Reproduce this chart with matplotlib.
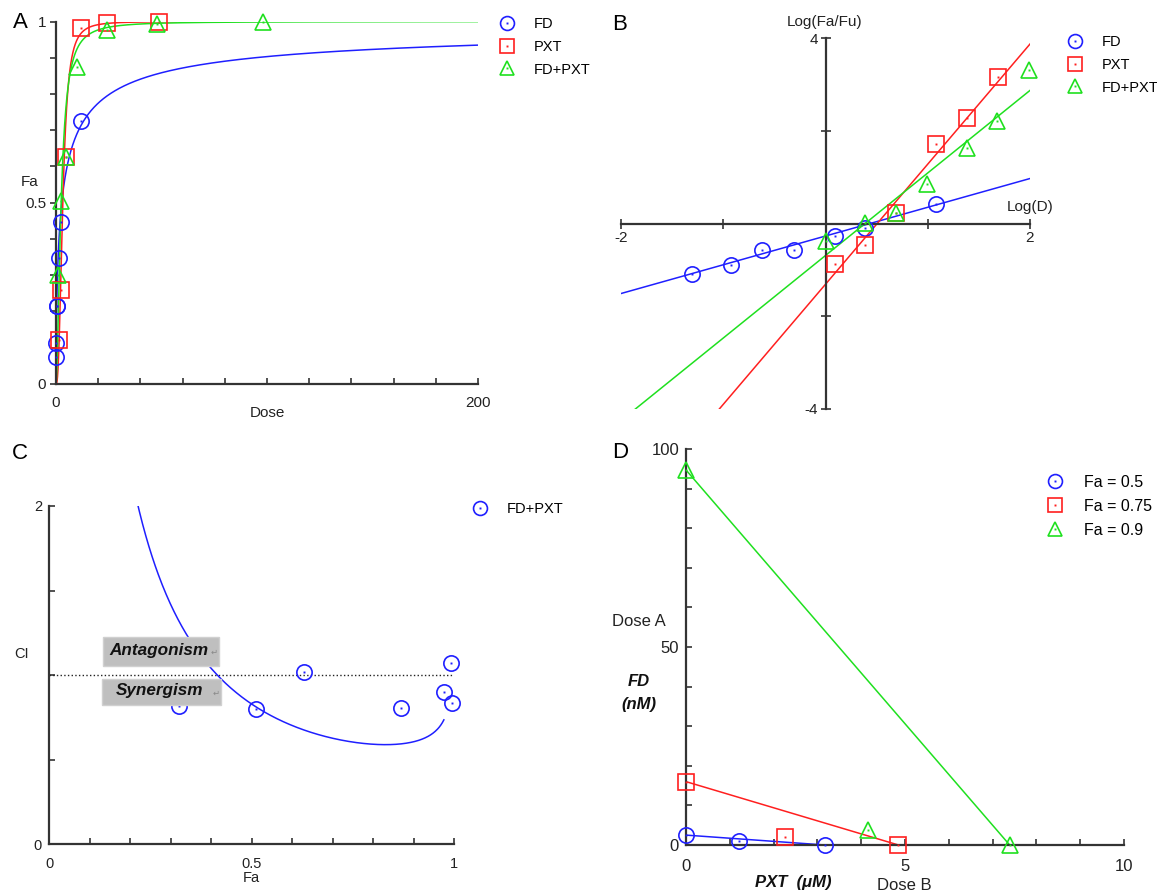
import numpy as np
import matplotlib
matplotlib.use("Agg")
import matplotlib.pyplot as plt
from matplotlib.lines import Line2D
from matplotlib.legend_handler import HandlerTuple
from matplotlib.patches import Rectangle

plt.rcParams['font.family'] = ['Liberation Sans', 'DejaVu Sans']

# --- data ---
fd_dose = [0.049, 0.12, 0.24, 0.49, 1.23, 2.45, 12.0]
fd_fa = [0.075, 0.112, 0.215, 0.215, 0.348, 0.447, 0.725]
pxt_dose = [1.23, 2.45, 4.9, 12.0, 24.0, 49.0]
pxt_fa = [0.12, 0.26, 0.625, 0.981, 0.9948, 0.9993]
combo_dose = [1.0, 2.45, 4.9, 9.8, 24.0, 48.0, 98.0]
combo_fa = [0.30, 0.506, 0.625, 0.874, 0.977, 0.994, 0.9995]

# median-effect lines from panel B: slope m, intercept at log(D)=0
m_fd, b_fd = 0.62, -0.27
m_pxt, b_pxt = 2.59, -1.31
m_combo, b_combo = 1.78, -0.69
fd_fraction = 0.5  # share of FD in the combination dose

ci_fa = [0.32, 0.51, 0.63, 0.87, 0.975, 0.992, 0.995]
ci_val = [0.814, 0.798, 1.015, 0.804, 0.902, 1.07, 0.837]

iso_levels = ["Fa = 0.5", "Fa = 0.75", "Fa = 0.9"]
iso_fd_alone = [2.5, 16.0, 94.7]      # FD (nM) giving the effect alone
iso_pxt_alone = [3.17, 4.85, 7.39]    # PXT (uM) giving the effect alone
iso_combo_pxt = [1.21, 2.26, 4.16]
iso_combo_fd = [1.1, 2.1, 3.8]

W, H = 1157, 893
BLUE, RED, GREEN = '#1f1fff', '#ff1f1f', '#1fe01f'
MS = 11
MS_LEG = 10


def box(l, t, r, b):
    return [l / W, 1 - b / H, (r - l) / W, (b - t) / H]


def dm(m, b):
    return 10 ** (-b / m)


def dose_for(fa, m, b):
    return dm(m, b) * (fa / (1 - fa)) ** (1 / m)


def markers(ax, x, y, marker, color):
    ax.plot(x, y, ls='none', marker=marker, ms=MS, mfc='none', mec=color,
            mew=1.2, clip_on=False, zorder=4)
    ax.plot(x, y, ls='none', marker='s', ms=1.4, mfc=color, mec='none',
            clip_on=False, zorder=4)


def handle(marker, color):
    return (Line2D([], [], ls='none', marker=marker, ms=MS_LEG, mfc='none', mec=color, mew=1.2),
            Line2D([], [], ls='none', marker='s', ms=1.4, mfc=color, mec='none'))


def legend(handles, labels, x, y, size=10.5, spacing=0.6):
    fig.legend(handles, labels, handler_map={tuple: HandlerTuple(ndivide=1, pad=0)},
               loc='upper left', bbox_to_anchor=(x / W, 1 - y / H), frameon=False,
               borderpad=0, borderaxespad=0, handlelength=1.0, handletextpad=1.3,
               labelspacing=spacing, fontsize=size)


def style(ax, size=11):
    for s in ax.spines.values():
        s.set_color('#333333')
        s.set_linewidth(1.6)
    ax.tick_params(colors='#333333', labelcolor='#222222', width=1.2, length=4,
                   labelsize=size)


def sparse(ticks, keep, fmt):
    return [fmt(t) if any(abs(t - k) < 1e-9 for k in keep) else '' for t in ticks]


def txt(x, y, s, **kw):
    kw.setdefault('ha', 'center')
    kw.setdefault('va', 'center')
    kw.setdefault('fontsize', 11)
    kw.setdefault('color', '#222222')
    fig.text(x / W, 1 - y / H, s, **kw)


fig = plt.figure(figsize=(W / 100, H / 100), dpi=100)

# ---------------- A: dose-effect curves ----------------
axA = fig.add_axes(box(56, 21.5, 478, 384))
style(axA)
axA.spines['top'].set_visible(False)
axA.spines['right'].set_visible(False)
axA.set_xlim(0, 200)
axA.set_ylim(0, 1)
xt = np.arange(0, 201, 20)
axA.set_xticks(xt, sparse(xt, [0, 200], lambda t: f"{t:g}"))
yt = np.round(np.arange(0, 1.01, 0.1), 1)
axA.set_yticks(yt, sparse(yt, [0, 0.5, 1], lambda t: f"{t:g}"))
axA.tick_params(axis='x', direction='in', pad=9)
axA.tick_params(axis='y', direction='out', pad=3)

for m, b, dmax, col in [(m_fd, b_fd, 200, BLUE), (m_pxt, b_pxt, 57, RED),
                        (m_combo, b_combo, 200, GREEN)]:
    d = np.geomspace(1e-4, dmax, 2000)
    fa = 1 / (1 + (dm(m, b) / d) ** m)
    axA.plot(np.r_[0, d], np.r_[0, fa], color=col, lw=1.1)
markers(axA, fd_dose, fd_fa, 'o', BLUE)
markers(axA, pxt_dose, pxt_fa, 's', RED)
markers(axA, combo_dose, combo_fa, '^', GREEN)

txt(20, 22, "A", fontsize=16, color='black')
txt(30, 182, "Fa")
txt(267, 413, "Dose")
legend([handle('o', BLUE), handle('s', RED), handle('^', GREEN)],
       ["FD", "PXT", "FD+PXT"], 500, 17)

# ---------------- B: median-effect plot ----------------
axB = fig.add_axes(box(621, 38, 1030, 409))
style(axB)
axB.spines['top'].set_visible(False)
axB.spines['right'].set_visible(False)
axB.spines['left'].set_position(('data', 0))
axB.spines['bottom'].set_position(('data', 0))
axB.set_xlim(-2, 2)
axB.set_ylim(-4, 4)
xt = np.arange(-2, 2.1, 1)
axB.set_xticks(xt, sparse(xt, [-2, 2], lambda t: f"{t:g}"))
yt = np.arange(-4, 4.1, 2)
axB.set_yticks(yt, sparse(yt, [-4, 4], lambda t: f"{t:g}"))
axB.tick_params(direction='inout', length=7, pad=2)

lx = np.linspace(-2, 2, 50)
for m, b, col in [(m_fd, b_fd, BLUE), (m_pxt, b_pxt, RED), (m_combo, b_combo, GREEN)]:
    axB.plot(lx, m * lx + b, color=col, lw=1.1)


def logit(fa):
    fa = np.asarray(fa)
    return np.log10(fa / (1 - fa))


markers(axB, np.log10(fd_dose), logit(fd_fa), 'o', BLUE)
markers(axB, np.log10(pxt_dose), logit(pxt_fa), 's', RED)
markers(axB, np.log10(combo_dose), logit(combo_fa), '^', GREEN)

txt(620, 25, "B", fontsize=16, color='black')
txt(825, 22, "Log(Fa/Fu)")
txt(1030, 207, "Log(D)")
legend([handle('o', BLUE), handle('s', RED), handle('^', GREEN)],
       ["FD", "PXT", "FD+PXT"], 1068, 35)

# ---------------- C: Fa-CI plot ----------------
axC = fig.add_axes(box(49, 506, 454, 844))
style(axC, 10.5)
axC.spines['top'].set_visible(False)
axC.spines['right'].set_visible(False)
axC.set_xlim(0, 1)
axC.set_ylim(0, 2)
xt = np.round(np.arange(0, 1.01, 0.1), 1)
axC.set_xticks(xt, sparse(xt, [0, 0.5, 1], lambda t: f"{t:g}"))
yt = np.arange(0, 2.01, 0.5)
axC.set_yticks(yt, sparse(yt, [0, 2], lambda t: f"{t:g}"))
axC.tick_params(axis='x', direction='in', pad=9)
axC.tick_params(axis='y', direction='in', pad=5)

axC.plot([0, 1], [1, 1], color='#222222', ls=':', lw=1.0)
fa_grid = np.linspace(0.2, 0.975, 400)
dc = dose_for(fa_grid, m_combo, b_combo)
ci = (fd_fraction * dc / dose_for(fa_grid, m_fd, b_fd)
      + (1 - fd_fraction) * dc / dose_for(fa_grid, m_pxt, b_pxt))
axC.plot(fa_grid, ci, color=BLUE, lw=1.1)
markers(axC, ci_fa, ci_val, 'o', BLUE)

for (l, t, r, b), word in [((103, 637, 219, 666), "Antagonism"),
                           ((102, 679, 221, 705), "Synergism")]:
    fig.add_artist(Rectangle((l / W, 1 - b / H), (r - l) / W, (b - t) / H,
                             transform=fig.transFigure, facecolor='#bfbfbf',
                             edgecolor='#d0d0d0', lw=1, zorder=5))
    txt((l + r) / 2 - 2, (t + b) / 2 - 1, word, fontsize=12.3, fontweight='bold',
        fontstyle='italic', color='#111111', zorder=6)
    txt(r - 5, (t + b) / 2 + 2, "\u21b5", fontsize=6, color='#888888', zorder=6)

txt(20, 453, "C", fontsize=16, color='black')
txt(22, 654, "CI", fontsize=10.5)
txt(251, 878, "Fa", fontsize=10.5)
legend([handle('o', BLUE)], ["FD+PXT"], 473, 502, size=10.5)

# ---------------- D: isobologram ----------------
axD = fig.add_axes(box(686, 449, 1124, 845))
style(axD, 12)
axD.spines['top'].set_visible(False)
axD.spines['right'].set_visible(False)
axD.set_xlim(0, 10)
axD.set_ylim(0, 100)
xt = np.arange(0, 11, 1)
axD.set_xticks(xt, sparse(xt, [0, 5, 10], lambda t: f"{t:g}"))
yt = np.arange(0, 101, 10)
axD.set_yticks(yt, sparse(yt, [0, 50, 100], lambda t: f"{t:g}"))
axD.tick_params(axis='x', direction='in', pad=10)
axD.tick_params(axis='y', direction='in', pad=5)

iso_style = [('o', BLUE), ('s', RED), ('^', GREEN)]
for i, (mk, col) in enumerate(iso_style):
    axD.plot([0, iso_pxt_alone[i]], [iso_fd_alone[i], 0], color=col, lw=1.1)
    markers(axD, [0, iso_pxt_alone[i]], [iso_fd_alone[i], 0], mk, col)
    markers(axD, [iso_combo_pxt[i]], [iso_combo_fd[i]], mk, col)

txt(620, 452, "D", fontsize=16, color='black')
txt(639, 622, "Dose A", fontsize=12)
txt(639, 682, "FD", fontsize=12, fontweight='bold', fontstyle='italic', color='#111111')
txt(639, 704, "(nM)", fontsize=12, fontweight='bold', fontstyle='italic', color='#111111')
txt(793, 882, "PXT  (\u03bcM)", fontsize=12, fontweight='bold', fontstyle='italic',
    color='#111111')
txt(904, 885, "Dose B", fontsize=12)
legend([handle(mk, col) for mk, col in iso_style], iso_levels, 1047, 475,
       size=11.5, spacing=0.55)

fig.savefig("out.png", dpi=100)
